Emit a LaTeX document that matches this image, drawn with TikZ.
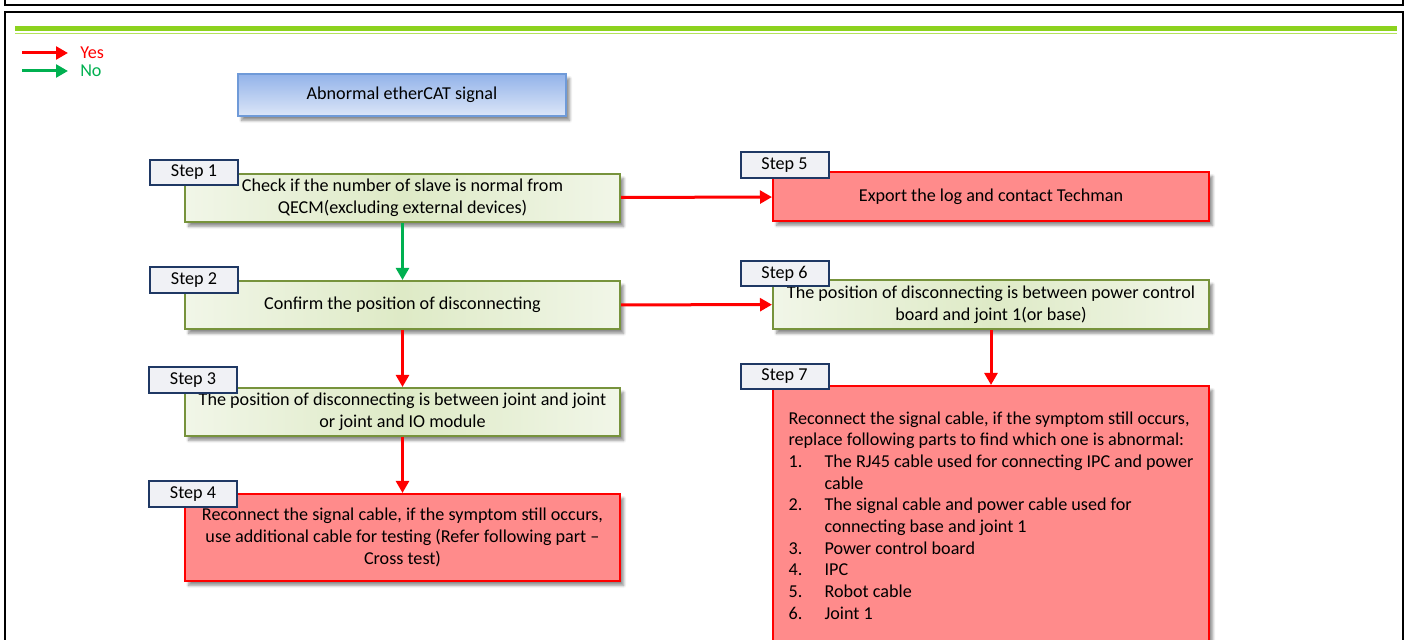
\documentclass[tikz,border=0pt]{standalone}
\usepackage{fontspec}
\setmainfont{Carlito}
\usepackage{tikz}
\usetikzlibrary{positioning,arrows.meta,shadows.blur}
\definecolor{YesRed}{HTML}{FF0000}
\definecolor{NoGreen}{HTML}{00B050}
\definecolor{BarGreen}{HTML}{8CD21E}
\definecolor{BarLight}{HTML}{B4E35A}
\definecolor{StepEdge}{HTML}{77933C}
\definecolor{StepLight}{HTML}{F1F6E8}
\definecolor{StepMid}{HTML}{DEEAC6}
\definecolor{StopFill}{HTML}{FF8B8B}
\definecolor{TagEdge}{HTML}{1F3864}
\definecolor{TagFill}{HTML}{F0F1F5}
\definecolor{TitleEdge}{HTML}{6F9AD8}
\definecolor{TitleTop}{HTML}{93B3E9}
\definecolor{TitleBottom}{HTML}{DCE6F8}

\begin{document}
\begin{tikzpicture}[
      x=0.25mm, y=-0.25mm,
      every node/.style={align=center, inner sep=0pt, font=\fontsize{12.9}{15.4}\selectfont},
      shade/.style={blur shadow={shadow xshift=0.9mm, shadow yshift=-1.1mm, shadow blur steps=6, shadow opacity=45}},
      title/.style={draw=TitleEdge, line width=0.4mm, top color=TitleTop, bottom color=TitleBottom, minimum width=82mm, minimum height=10.5mm, shade},
      check/.style={draw=StepEdge, line width=0.5mm, left color=StepLight, right color=StepLight, middle color=StepMid, minimum width=108.75mm, minimum height=12mm, shade},
      stop/.style={draw=YesRed, line width=0.5mm, fill=StopFill, minimum width=108.75mm, minimum height=12mm, shade},
      tag/.style={draw=TagEdge, line width=0.5mm, fill=TagFill, minimum width=22mm, minimum height=6.4mm},
      yes/.style={YesRed, line width=0.75mm, -{Triangle[length=3mm, width=3.2mm]}},
      no/.style={NoGreen, line width=0.75mm, -{Triangle[length=3mm, width=3.2mm]}}
    ]
      \useasboundingbox (0,0) rectangle (1407,640);

      % page frames and header rule
      \draw[line width=0.5mm] (5,-20) -- (5,5) -- (1403,5) -- (1403,-20);
      \draw[line width=0.5mm] (5,12) rectangle (1403,700);
      \draw[BarGreen, line width=1.3mm] (15,28.5) -- (1397,28.5);
      \draw[BarLight, line width=0.4mm] (15,33.5) -- (1397,33.5);

      % legend
      \coordinate (ya) at (22,53);
      \coordinate (yb) at (68,53);
      \coordinate (na) at (22,71);
      \coordinate (nb) at (68,71);
      \draw[yes] (ya) -- (yb);
      \draw[no] (na) -- (nb);
      \node[anchor=west, text=YesRed] (yes) at (80,53) {Yes};
      \node[anchor=west, text=NoGreen] (no) at (80,71) {No};

      \node[title] (start) at (402,95) {Abnormal etherCAT signal};

      % left column
      \node[check] (s1) at (402.5,198) {Check if the number of slave is normal from\\QECM(excluding external devices)};
      \node[check] (s2) at (402.5,305) {Confirm the position of disconnecting};
      \node[check] (s3) at (402.5,412) {The position of disconnecting is between joint and joint\\or joint and IO module};
      \node[stop, minimum height=21.75mm] (s4) at (402.5,537.5) {Reconnect the signal cable, if the symptom still occurs,\\use additional cable for testing (Refer following part --\\Cross test)};

      % right column
      \node[stop, minimum width=109mm, minimum height=12.25mm] (s5) at (991,196.5) {Export the log and contact Techman};
      \node[check, minimum width=109mm, minimum height=12.25mm] (s6) at (991,304.5) {The position of disconnecting is between power control\\board and joint 1(or base)};
      \node[stop, align=left, minimum width=109mm, minimum height=64.75mm] (s7) at (991,515.5) {%
        Reconnect the signal cable, if the symptom still occurs,\\
        replace following parts to find which one is abnormal:\\
        \makebox[9mm][l]{1.}The RJ45 cable used for connecting IPC and power\\
        \hspace*{9mm}cable\\
        \makebox[9mm][l]{2.}The signal cable and power cable used for\\
        \hspace*{9mm}connecting base and joint 1\\
        \makebox[9mm][l]{3.}Power control board\\
        \makebox[9mm][l]{4.}IPC\\
        \makebox[9mm][l]{5.}Robot cable\\
        \makebox[9mm][l]{6.}Joint 1};

      % step tags
      \node[tag] (t1) at (194,172.5) {Step 1};
      \node[tag] (t2) at (194,280) {Step 2};
      \node[tag] (t3) at (193,380) {Step 3};
      \node[tag] (t4) at (193,494) {Step 4};
      \node[tag] (t5) at (784.5,165) {Step 5};
      \node[tag] (t6) at (784.5,273.5) {Step 6};
      \node[tag] (t7) at (784.5,376.5) {Step 7};

      \draw[no] (s1) -- (s2);
      \draw[yes] (s2) -- (s3);
      \draw[yes] (s3) -- (s4);
      \draw[yes] (s1) -- (s5);
      \draw[yes] (s2) -- (s6);
      \draw[yes] (s6) -- (s7);

    \end{tikzpicture}
\end{document}
